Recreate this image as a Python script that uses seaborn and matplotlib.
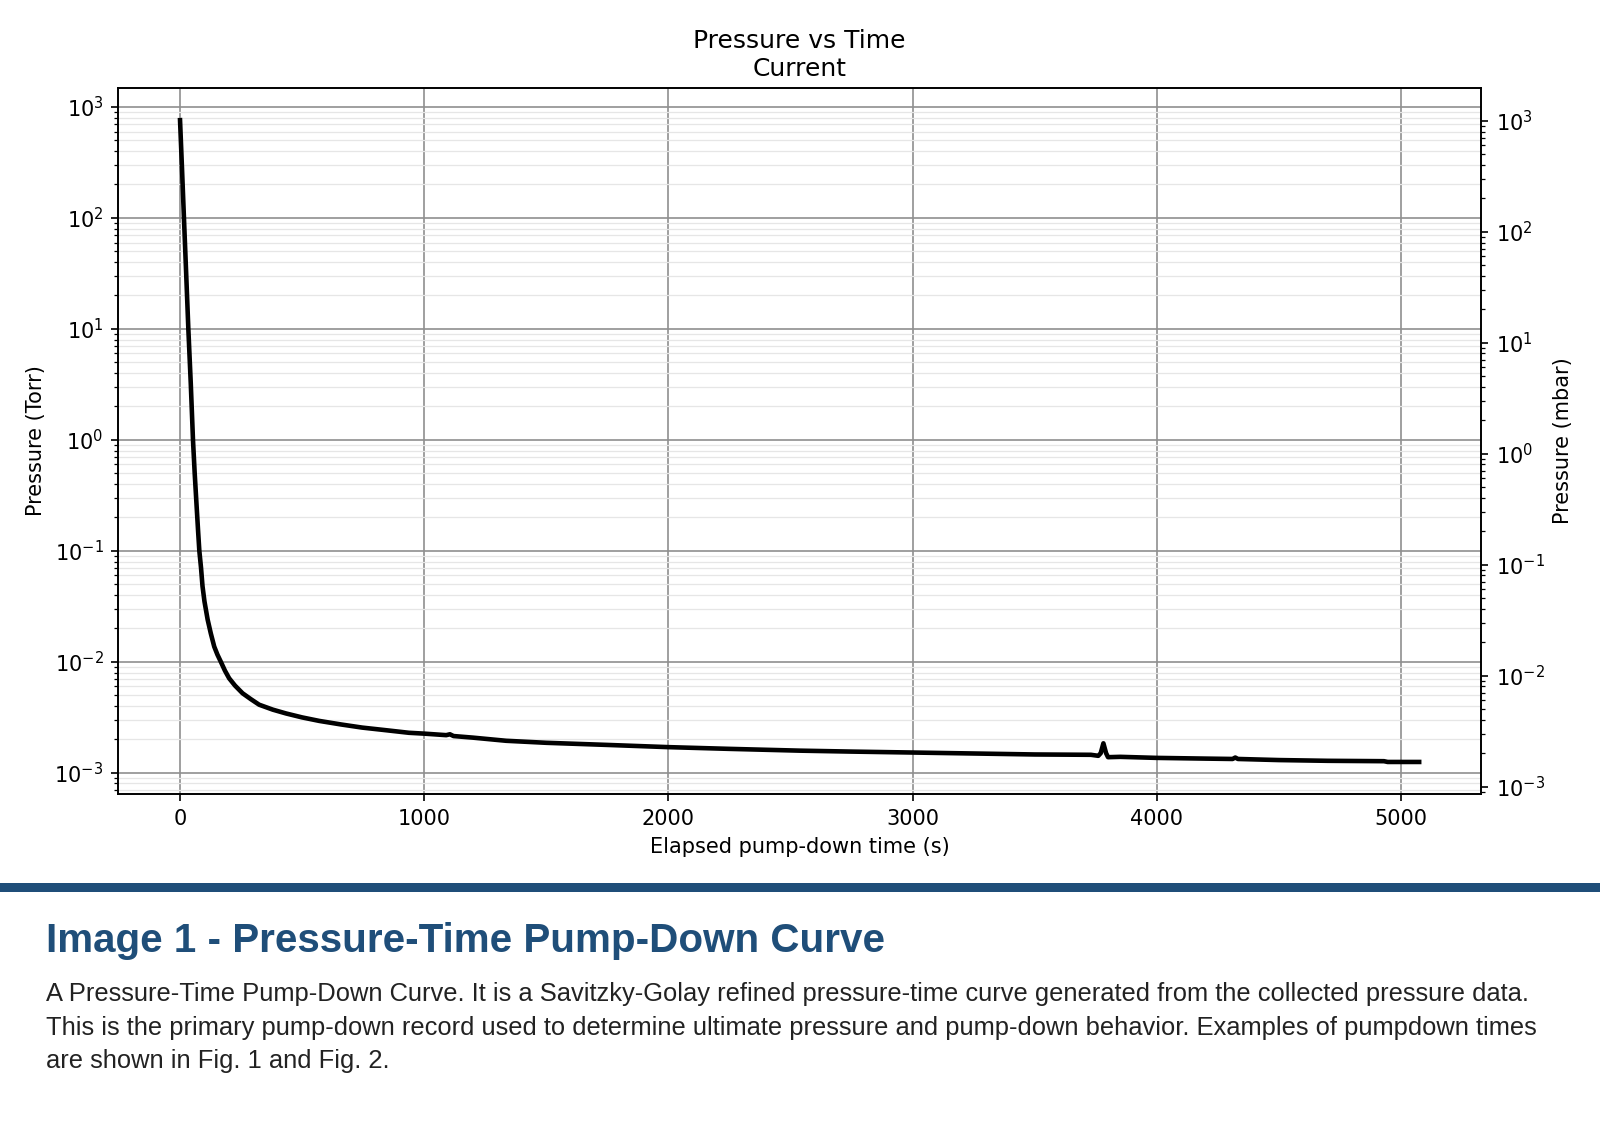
import numpy as np
import pandas as pd
import matplotlib
matplotlib.use("Agg")
import matplotlib.pyplot as plt
import matplotlib.patches as mpatches
import seaborn as sns

# pump-down record (time in s, pressure in Torr)
time_s = [0, 8, 16, 25, 34, 44, 53, 60, 68, 74, 79, 86, 92, 100, 113, 126,
          140, 153, 167, 184, 201, 225, 256, 290, 324, 380, 434, 500, 570,
          660, 746, 840, 937, 1000, 1090, 1105, 1120, 1200, 1335, 1500, 1750,
          2000, 2250, 2540, 2750, 3000, 3250, 3500, 3730, 3760, 3770, 3781,
          3792, 3800, 3850, 4000, 4200, 4310, 4321, 4332, 4500, 4700, 4930,
          4945, 5000, 5074]
pressure_torr = [760, 280, 100, 32, 10, 3.2, 1.0, 0.5, 0.25, 0.15, 0.10,
                 0.07, 0.048, 0.035, 0.024, 0.018, 0.0137, 0.0116, 0.0100,
                 0.0083, 0.0071, 0.0061, 0.0052, 0.0046, 0.0041, 0.0037,
                 0.00342, 0.00315, 0.00293, 0.00272, 0.00255, 0.00242, 0.00229,
                 0.00225, 0.00218, 0.00222, 0.00214, 0.00207, 0.00194, 0.00186,
                 0.00178, 0.00170, 0.00164, 0.00158, 0.00155, 0.00152, 0.00149,
                 0.00146, 0.00145, 0.00142, 0.00150, 0.00184, 0.00150, 0.00138,
                 0.00139, 0.00136, 0.00134, 0.00133, 0.00137, 0.00133, 0.00130,
                 0.00128, 0.00127, 0.00125, 0.00125, 0.00125]
TORR_TO_MBAR = 1.33322

title_text = "Pressure vs Time\nCurrent"
heading = "Image 1 - Pressure-Time Pump-Down Curve"
caption_lines = [
    "A Pressure-Time Pump-Down Curve. It is a Savitzky-Golay refined pressure-time curve generated from the collected pressure data.",
    "This is the primary pump-down record used to determine ultimate pressure and pump-down behavior. Examples of pumpdown times",
    "are shown in Fig. 1 and Fig. 2.",
]

df = pd.DataFrame({"t": time_s, "p": pressure_torr})

fig = plt.figure(figsize=(1600 / 150, 1135 / 150), dpi=150)
ax = fig.add_axes([0.0738, 0.3004, 0.8519, 0.622])

sns.lineplot(data=df, x="t", y="p", color="black", linewidth=2.2, ax=ax)
ax.set_yscale("log")
ax.grid(which="major", color="#8f8f8f", linewidth=0.8)
ax.grid(which="minor", axis="y", color="#e6e6e6", linewidth=0.6)
ax.set_axisbelow(True)

ax.set_title(title_text, fontsize=12)
ax.set_xlabel("Elapsed pump-down time (s)", fontsize=10)
ax.set_ylabel("Pressure (Torr)", fontsize=10)
ax.tick_params(labelsize=10)

# secondary axis in mbar
ax2 = ax.twinx()
ax2.set_yscale("log")
lo, hi = ax.get_ylim()
ax2.set_ylim(lo * TORR_TO_MBAR, hi * TORR_TO_MBAR)
ax2.set_ylabel("Pressure (mbar)", fontsize=10)
ax2.tick_params(labelsize=10)

# report band and caption
fig.add_artist(mpatches.Rectangle((0, 1 - 892 / 1135), 1, 9 / 1135,
                                  transform=fig.transFigure, color="#1f4e79", lw=0))
fig.text(46 / 1600, 1 - 952 / 1135, heading, fontsize=19.4, fontweight="bold",
         color="#1f4e79", family="Liberation Sans", va="baseline")
fig.text(46 / 1600, 1 - 982 / 1135, "\n".join(caption_lines), fontsize=12.25,
         color="#222222", family="Liberation Sans", va="top",
         linespacing=1.5)

plt.savefig("out.png", dpi=150)
